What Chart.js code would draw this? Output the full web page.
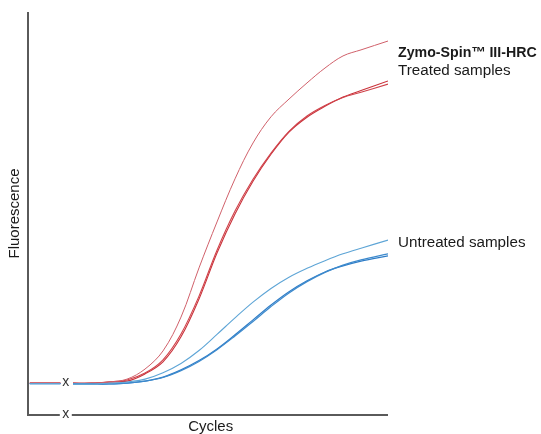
<!DOCTYPE html>
<html>
<head>
<meta charset="utf-8">
<script src="https://cdn.jsdelivr.net/npm/chart.js@4"></script>
<style>
html,body{margin:0;padding:0;background:#fff;}
canvas{display:block;}
</style>
</head>
<body>
<canvas id="c" width="541" height="434"></canvas>
<script>
// Cycle positions (x) of the sampled points
const cycles = [5,7,9,11,13,15,17,19,21,23,25,27,29,31,33,35,37,40];
// short pre-break baseline stub
const stubCycles = [0.2, 3.6];
const stubRed = 7.9;
const stubBlue = 7.8;
const breakCycle = 4.2;

// Zymo-Spin III-HRC treated samples
const treated1 = [7.9,7.9,8.2,8.9,11.4,15.9,24.3,36.5,47.9,58.6,67.5,74.0,78.4,82.4,86.1,89.1,90.6,92.8];
const treated2 = [7.9,7.9,8.2,8.7,10.4,13.7,20.1,29.5,40.9,50.6,58.5,65.0,70.4,74.2,76.8,78.8,80.1,82.1];
const treated3 = [7.9,7.9,8.2,8.4,10.2,13.2,19.4,28.8,40.2,49.9,58.0,64.7,70.2,73.9,76.6,78.9,80.5,82.9];
// Untreated samples
const untreated1 = [7.7,7.7,7.9,8.2,8.9,10.5,12.8,16.0,20.0,24.1,28.0,31.4,34.2,36.4,38.3,40.0,41.4,43.4];
const untreated2 = [7.7,7.7,7.7,7.9,8.4,9.3,11.0,13.3,16.2,19.6,23.2,26.9,30.3,33.1,35.4,37.2,38.5,40.0];
const untreated3 = [7.7,7.7,7.7,7.9,8.4,9.4,11.2,13.5,16.4,19.9,23.6,27.3,30.6,33.3,35.5,37.0,38.2,39.5];

const labelTreatedTitle = "Zymo-Spin\u2122 III-HRC";
const labelTreated = "Treated samples";
const labelUntreated = "Untreated samples";
const xTitle = "Cycles";
const yTitle = "Fluorescence";

function build(vals, stub) {
  const pts = stubCycles.map(c => ({x: c, y: stub}));
  pts.push({x: breakCycle, y: null});
  cycles.forEach((c, i) => pts.push({x: c, y: vals[i]}));
  return pts;
}
function ds(vals, stub, color, w) {
  return {data: build(vals, stub), borderColor: color, borderWidth: w, showLine: true,
    pointRadius: 0, fill: false, tension: 0.35, spanGaps: false};
}

const decor = {
  id: 'decor',
  afterDraw(chart) {
    const ctx = chart.ctx, a = chart.chartArea, xs = chart.scales.x, ys = chart.scales.y;
    const bx = xs.getPixelForValue(breakCycle);
    ctx.save();
    ctx.strokeStyle = '#5a5a5a';
    ctx.lineWidth = 2;
    ctx.beginPath();
    ctx.moveTo(a.left, a.top);
    ctx.lineTo(a.left, a.bottom);
    ctx.lineTo(bx - 6, a.bottom);
    ctx.moveTo(bx + 6, a.bottom);
    ctx.lineTo(a.right, a.bottom);
    ctx.stroke();
    ctx.fillStyle = '#333';
    ctx.font = '14px "Liberation Sans", Arial, sans-serif';
    ctx.textAlign = 'center';
    ctx.textBaseline = 'middle';
    ctx.fillText('x', bx, a.bottom - 1);
    ctx.fillText('x', bx, ys.getPixelForValue(stubRed) - 1);
    // labels
    ctx.fillStyle = '#1a1a1a';
    ctx.textAlign = 'left';
    ctx.textBaseline = 'alphabetic';
    const lx = a.right + 10;
    ctx.font = 'bold 14.2px "Liberation Sans", Arial, sans-serif';
    ctx.fillText(labelTreatedTitle, lx, ys.getPixelForValue(88.8));
    ctx.font = '15.2px "Liberation Sans", Arial, sans-serif';
    ctx.fillText(labelTreated, lx, ys.getPixelForValue(84.4));
    ctx.fillText(labelUntreated, lx, ys.getPixelForValue(41.6));
    ctx.textAlign = 'center';
    ctx.font = '15px "Liberation Sans", Arial, sans-serif';
    ctx.fillText(xTitle, xs.getPixelForValue(20.3), a.bottom + 16);
    ctx.translate(19, ys.getPixelForValue(50));
    ctx.rotate(-Math.PI / 2);
    ctx.fillText(yTitle, 0, 0);
    ctx.restore();
  }
};

new Chart(document.getElementById('c'), {
  type: 'scatter',
  data: {
    datasets: [
      ds(untreated1, stubBlue, '#5ea5d6', 1.1),
      ds(untreated2, stubBlue, '#3d8acd', 1.2),
      ds(untreated3, stubBlue, '#2f7dc7', 1.2),
      ds(treated1, stubRed, '#d0606a', 1.0),
      ds(treated2, stubRed, '#d0424a', 1.1),
      ds(treated3, stubRed, '#c9323a', 1.1)
    ]
  },
  options: {
    responsive: false,
    animation: false,
    layout: {padding: {left: 28, right: 153, top: 12, bottom: 19}},
    plugins: {legend: {display: false}, tooltip: {enabled: false}},
    scales: {
      x: {type: 'linear', min: 0, max: 40, display: false},
      y: {type: 'linear', min: 0, max: 100, display: false}
    }
  },
  plugins: [decor]
});
</script>
</body>
</html>
